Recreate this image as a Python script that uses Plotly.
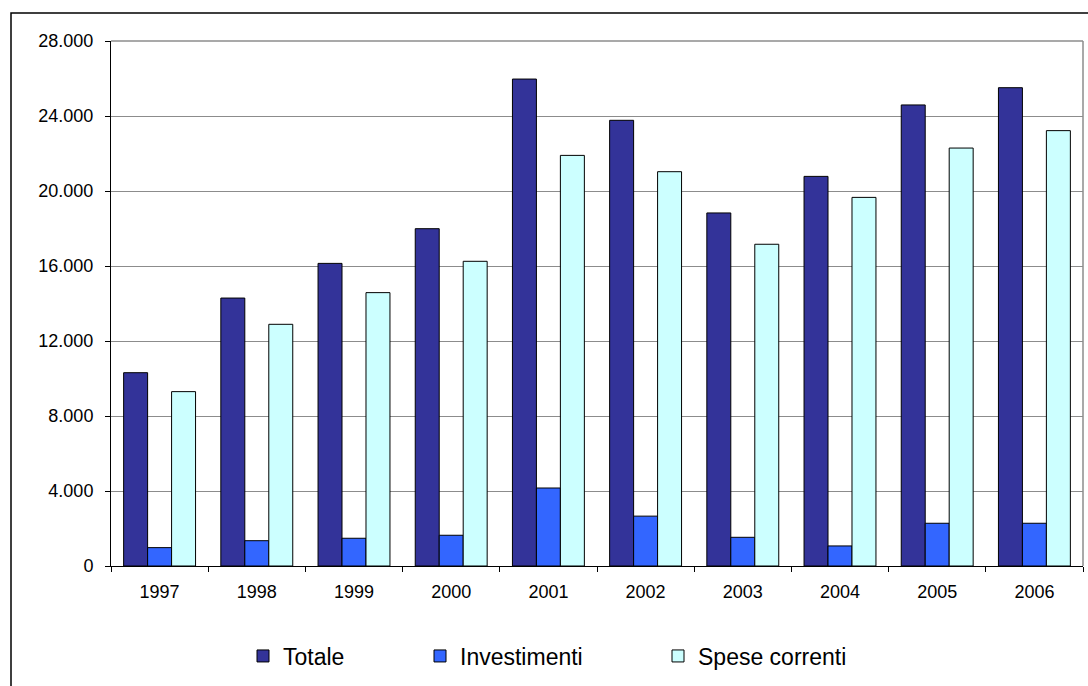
import plotly.graph_objects as go

# dati
anni = ["1997", "1998", "1999", "2000", "2001", "2002", "2003", "2004", "2005", "2006"]
totale = [10310, 14290, 16140, 17990, 25970, 23770, 18830, 20780, 24590, 25510]
investimenti = [980, 1350, 1480, 1640, 4160, 2660, 1530, 1070, 2280, 2280]
spese_correnti = [9300, 12890, 14580, 16250, 21900, 21030, 17160, 19660, 22290, 23220]

y_ticks = [0, 4000, 8000, 12000, 16000, 20000, 24000, 28000]

W, H = 1088, 686
L, R, T, B = 111, 5, 41, 120
pw = W - L - R
ph = H - T - B


def px_x(p):
    return (p - L) / pw


def px_y(p):
    return (H - B - p) / ph


fig = go.Figure()
serie = [
    ("Totale", totale, "#333399", "legend"),
    ("Investimenti", investimenti, "#3366FF", "legend2"),
    ("Spese correnti", spese_correnti, "#CCFFFF", "legend3"),
]
for nome, vals, col, leg in serie:
    fig.add_trace(go.Bar(
        x=anni, y=vals, name=nome, legend=leg, showlegend=True,
        marker=dict(color=col, line=dict(color="black", width=1)),
    ))

font_fam = "Arial, Liberation Sans, sans-serif"
leg_style = dict(orientation="h", yanchor="middle", xanchor="left",
                 font=dict(family=font_fam, size=23, color="black"),
                 bgcolor="rgba(0,0,0,0)", borderwidth=0)
leg_y = px_y(656)

fig.update_layout(
    width=W, height=H,
    margin=dict(l=L, r=R, t=T, b=B, autoexpand=False),
    plot_bgcolor="white", paper_bgcolor="white",
    separators=",.",
    showlegend=True,
    barmode="group", bargap=0.26, bargroupgap=0,
    font=dict(family=font_fam, size=18, color="black"),
    legend=dict(x=px_x(243), y=leg_y, **leg_style),
    legend2=dict(x=px_x(420), y=leg_y, **leg_style),
    legend3=dict(x=px_x(658), y=leg_y, **leg_style),
    shapes=[dict(type="rect", xref="paper", yref="paper",
                 x0=px_x(11), y0=px_y(700), x1=px_x(1100), y1=px_y(13),
                 line=dict(color="black", width=1.5), layer="below")],
)

fig.update_xaxes(
    type="category", tickson="boundaries", ticks="outside", ticklen=5,
    tickcolor="black", showline=True, linecolor="black", linewidth=1,
    showgrid=False, mirror=False, automargin=False, ticklabelstandoff=9,
    tickfont=dict(size=18, color="black"),
)
fig.update_yaxes(
    range=[0, 28000], tickvals=y_ticks, tickformat=",d",
    ticks="outside", ticklen=5, tickcolor="black",
    showline=True, linecolor="black", linewidth=1,
    showgrid=True, gridcolor="#8c8c8c", gridwidth=1, automargin=False,
    ticklabelstandoff=8,
    zeroline=False, tickfont=dict(size=18, color="black"),
)
# bordo grigio dell'area del grafico (alto e destra)
fig.add_shape(type="line", xref="paper", yref="paper", x0=0, x1=1, y0=1, y1=1,
              line=dict(color="#8c8c8c", width=1.5))
fig.add_shape(type="line", xref="paper", yref="paper", x0=1, x1=1, y0=0, y1=1,
              line=dict(color="#8c8c8c", width=1.5))

fig.write_html("out.html", config={"displayModeBar": False},
               post_script="document.body.style.margin='0';")
